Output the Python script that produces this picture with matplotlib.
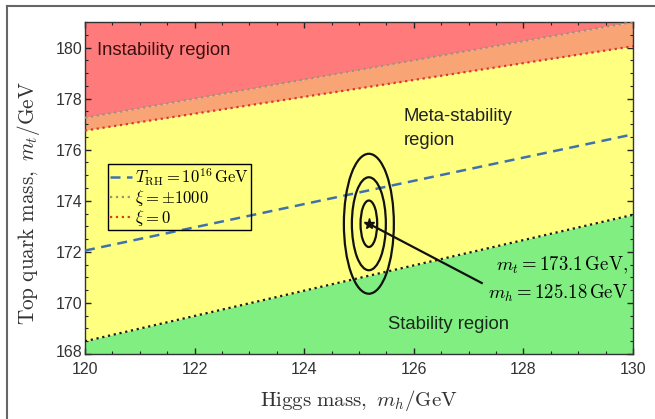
import matplotlib
matplotlib.use("Agg")
import matplotlib.pyplot as plt
from matplotlib.patches import Ellipse
from matplotlib.lines import Line2D
from matplotlib.ticker import MultipleLocator
from matplotlib.transforms import ScaledTranslation

plt.rcParams['mathtext.fontset'] = 'cm'
plt.rcParams['font.family'] = ['Liberation Sans', 'DejaVu Sans']

# ---- data ----
mh = [120, 130]                       # Higgs mass endpoints (GeV)
xi_pm1000 = [177.25, 181.0]           # xi = +-1000 instability boundary
xi_zero = [176.75, 180.05]            # xi = 0 instability boundary
stability = [168.5, 173.45]           # absolute stability boundary
t_rh = [172.05, 176.6]                # T_RH = 10^16 GeV line
mt_lim = [168, 181]
mh_lim = [120, 130]

center_mh = 125.18
center_mt = 173.1
ell_half_w = [0.152, 0.31, 0.456]     # 1,2,3 sigma in m_h
ell_half_h = [0.91, 1.82, 2.74]       # 1,2,3 sigma in m_t
label_point = [127.24, 170.78]

xticks = [120, 122, 124, 126, 128, 130]
yticks = [168, 170, 172, 174, 176, 178, 180]

# ---- colours ----
c_red = '#ff7b7b'
c_orange = '#f8a474'
c_yellow = '#ffff80'
c_green = '#80ee80'

fig = plt.figure(figsize=(6.55, 4.19), dpi=100)
ax = fig.add_axes([85/655, 1-354/419, 548/655, 332/419])

ax.fill_between(mh, xi_pm1000, [mt_lim[1]]*2, color=c_red, lw=0, zorder=1)
ax.fill_between(mh, xi_zero, xi_pm1000, color=c_orange, lw=0, zorder=1)
ax.fill_between(mh, stability, xi_zero, color=c_yellow, lw=0, zorder=1)
ax.fill_between(mh, [mt_lim[0]]*2, stability, color=c_green, lw=0, zorder=1)

l1, = ax.plot(mh, t_rh, color='#3f72ad', lw=1.8, dashes=(4, 2.6), zorder=3,
              label=r'$T_{\mathrm{RH}}=10^{16}\,\mathrm{GeV}$')
l2, = ax.plot(mh, xi_pm1000, color='#9c9478', lw=1.6, ls=':', zorder=3,
              label=r'$\xi=\pm1000$')
l3, = ax.plot(mh, xi_zero, color='#e0361e', lw=1.6, ls=':', zorder=3,
              label=r'$\xi=0$')
ax.plot(mh, stability, color='#1a1a1a', lw=1.6, ls=':', zorder=3)

for w, h in zip(ell_half_w, ell_half_h):
    ax.add_patch(Ellipse((center_mh, center_mt), 2*w, 2*h, fill=False,
                         ec='#111111', lw=1.6, zorder=4))
ax.plot([center_mh], [center_mt], marker='*', color='#111111', ms=8, zorder=5)
ax.plot([center_mh, label_point[0]], [center_mt, label_point[1]],
        color='#111111', lw=1.6, zorder=4)

ax.text(129.91, 171.45, r'$m_t = 173.1\,\mathrm{GeV},$', ha='right', va='center',
        fontsize=13.5, zorder=6)
ax.text(129.91, 170.38, r'$m_h = 125.18\,\mathrm{GeV}$', ha='right', va='center',
        fontsize=13.5, zorder=6)

ax.text(120.22, 179.9, 'Instability region', ha='left', va='center',
        fontsize=13.3, color='#3a1010', zorder=6)
ax.text(125.82, 177.3, 'Meta-stability', ha='left', va='center',
        fontsize=13.3, color='#222222', zorder=6)
ax.text(125.82, 176.36, 'region', ha='left', va='center',
        fontsize=13.3, color='#222222', zorder=6)
ax.text(126.64, 169.15, 'Stability region', ha='center', va='center',
        fontsize=13.3, color='#1a2a1a', zorder=6)

leg = ax.legend(handles=[l1, l2, l3], loc='upper left',
                bbox_to_anchor=(0.042, 0.572), fontsize=12,
                handlelength=1.3, handletextpad=0.2, labelspacing=0.0,
                borderpad=0.12, borderaxespad=0, fancybox=False,
                framealpha=1, edgecolor='black')
leg.get_frame().set_facecolor('none')
leg.get_frame().set_linewidth(1.0)
leg.set_zorder(7)

ax.set_xlim(mh_lim)
ax.set_ylim(mt_lim)
ax.set_xticks(xticks)
ax.set_yticks(yticks)
ax.xaxis.set_minor_locator(MultipleLocator(0.5))
ax.yaxis.set_minor_locator(MultipleLocator(0.5))
ax.tick_params(which='both', direction='in', top=True, right=True,
               colors='#222222', labelcolor='#333333')
ax.tick_params(which='major', length=4, width=1, labelsize=11.5)
ax.tick_params(axis='x', which='major', pad=6)
ax.tick_params(axis='y', which='major', pad=2)
ax.tick_params(which='minor', length=2.2, width=0.8)
for s in ax.spines.values():
    s.set_color('#333333')
    s.set_linewidth(1.0)

# raise the lowest y tick label slightly as in the reference
first = ax.get_yticklabels()[0]
first.set_transform(first.get_transform() + ScaledTranslation(0, 3/100, fig.dpi_scale_trans))

ax.set_xlabel(r'$\mathrm{Higgs\ mass,}\ m_h/\mathrm{GeV}$', fontsize=15,
              color='#333333', labelpad=8)
ax.set_ylabel(r'$\mathrm{Top\ quark\ mass,}\ m_t/\mathrm{GeV}$', fontsize=15.3,
              color='#333333', labelpad=5)
ax.yaxis.set_label_coords(-0.078, 0.455)

# figure frame (left and top edges)
fig.add_artist(Line2D([7/655, 7/655], [0, 1-6/419], color='#666666', lw=1.5,
                      transform=fig.transFigure))
fig.add_artist(Line2D([7/655, 1], [1-6/419, 1-6/419], color='#666666', lw=1.5,
                      transform=fig.transFigure))

fig.savefig('out.png', dpi=100)
